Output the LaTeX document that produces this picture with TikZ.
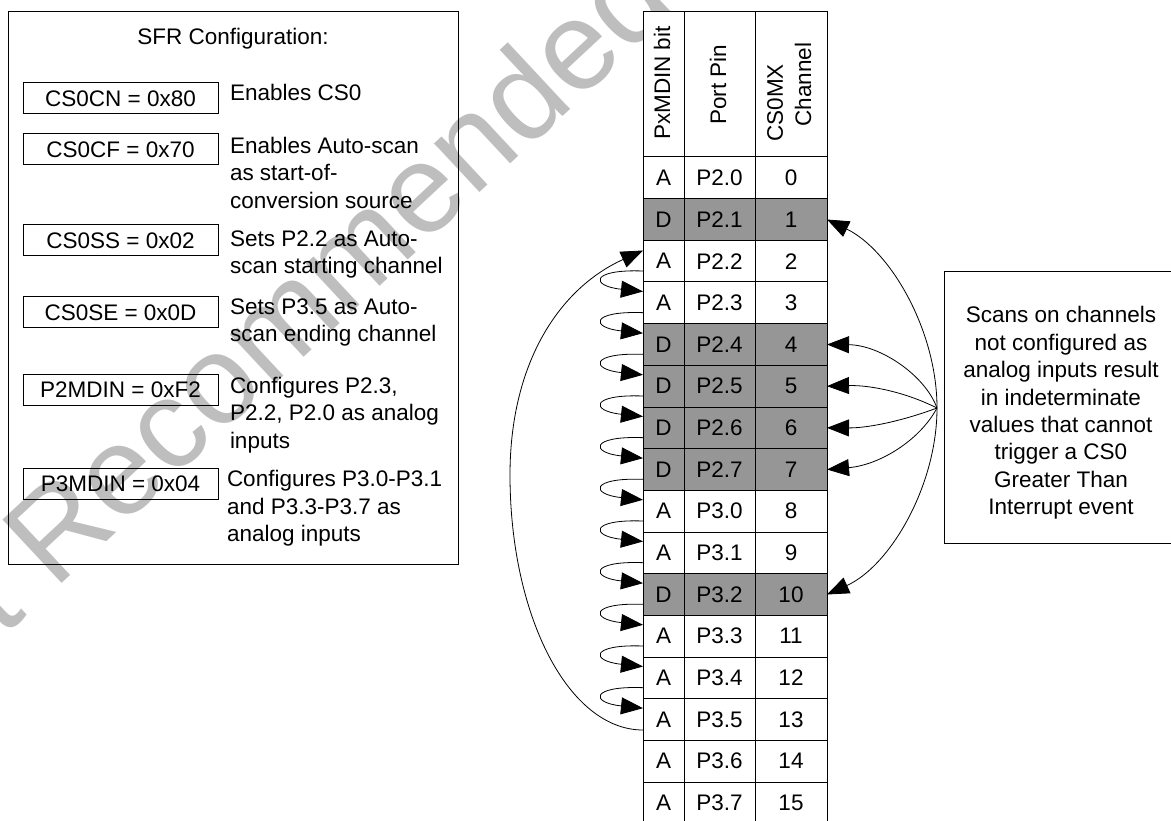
\documentclass[tikz,border=0pt]{standalone}
\usepackage{fontspec}
\setmainfont{Liberation Sans}
\usetikzlibrary{arrows.meta}
\definecolor{cellgray}{RGB}{150,150,150}
\definecolor{wmgray}{RGB}{190,190,190}
\begin{document}
\begin{tikzpicture}[x=1pt,y=-1pt,
  txt/.style={font=\fontsize{22.5}{27.5}\selectfont, inner sep=0pt, outer sep=0pt},
  box/.style={draw, line width=1pt, inner sep=0pt, outer sep=0pt},
  regbox/.style={box, minimum width=195pt, minimum height=31pt, font=\fontsize{22.5}{27.5}\selectfont},
  cell/.style={box, minimum height=41.667pt, font=\fontsize{22.5}{27.5}\selectfont},
  con/.style={line width=0.8pt, -{Triangle[length=22pt,width=17pt]}},
  ]
\useasboundingbox (0,0) rectangle (1171,821);
\clip (0,0) rectangle (1171,821);
% watermark
\node[font=\fontsize{126}{126}\selectfont, text=wmgray, rotate=43, anchor=base west, inner sep=0pt] (wm) at (-115,748) {Not Recommended};

% SFR configuration box
\node[box, minimum width=450pt, minimum height=552pt] (sfr) at (233,288) {};
\node[txt, anchor=base] (title) at (233,45) {SFR Configuration:};
\node[regbox] (r1) at (120.5,98.5) {CS0CN = 0x80};
\node[regbox] (r2) at (120.5,149.5) {CS0CF = 0x70};
\node[regbox] (r3) at (120.5,240.5) {CS0SS = 0x02};
\node[regbox] (r4) at (120.5,312.5) {CS0SE = 0x0D};
\node[regbox] (r5) at (120.5,390) {P2MDIN = 0xF2};
\node[regbox] (r6) at (120.5,483.5) {P3MDIN = 0x04};
\node[txt, anchor=north west, align=left] (d1) at (230,83.7) {Enables CS0};
\node[txt, anchor=north west, align=left] (d2) at (230,137) {Enables Auto-scan\\as start-of-\\conversion source};
\node[txt, anchor=north west, align=left] (d3) at (230,230.4) {Sets P2.2 as Auto-\\scan starting channel};
\node[txt, anchor=north west, align=left] (d4) at (230,298.7) {Sets P3.5 as Auto-\\scan ending channel};
\node[txt, anchor=north west, align=left] (d5) at (230,377) {Configures P2.3,\\P2.2, P2.0 as analog\\inputs};
\node[txt, anchor=north west, align=left] (d6) at (227,470.4) {Configures P3.0-P3.1\\and P3.3-P3.7 as\\analog inputs};

% table header
\node[cell, fill=white, minimum width=41pt, minimum height=145pt] (hc1) at (663.5,84.5) {};
\node[cell, fill=white, minimum width=71pt, minimum height=145pt] (hc2) at (719.5,84.5) {};
\node[cell, fill=white, minimum width=72pt, minimum height=145pt] (hc3) at (791,84.5) {};
\node[txt, rotate=90, anchor=west] (t1) at (662,140) {PxMDIN bit};
\node[txt, rotate=90, anchor=west] (t2) at (718,125) {Port Pin};
\node[txt, rotate=90, anchor=west] (t3) at (775,141.7) {CS0MX};
\node[txt, rotate=90, anchor=west] (t4) at (803,126.7) {Channel};

% table rows
\foreach \i/\b/\p/\f in {0/A/P2.0/white, 1/D/P2.1/cellgray, 2/A/P2.2/white, 3/A/P2.3/white,
  4/D/P2.4/cellgray, 5/D/P2.5/cellgray, 6/D/P2.6/cellgray, 7/D/P2.7/cellgray,
  8/A/P3.0/white, 9/A/P3.1/white, 10/D/P3.2/cellgray, 11/A/P3.3/white,
  12/A/P3.4/white, 13/A/P3.5/white, 14/A/P3.6/white, 15/A/P3.7/white}{
  \pgfmathsetmacro\yc{157+41.667*\i+20.833}
  \node[cell, fill=\f, minimum width=41pt] (a\i) at (663.5,\yc) {\b};
  \node[cell, fill=\f, minimum width=71pt] (p\i) at (719.5,\yc) {\p};
  \node[cell, fill=\f, minimum width=72pt] (n\i) at (791,\yc) {\i};
}

% scan sequence loops on the left
\foreach \k in {3,...,13}{
  \pgfmathsetmacro\ys{157+41.667*\k-11}
  \pgfmathsetmacro\yt{157+41.667*\k+9.5}
  \coordinate (ls\k) at (643,\ys);
  \coordinate (lt\k) at (643,\yt);
  \draw[con] (ls\k) .. controls (590,\ys-2) and (590,\ys+15) .. (lt\k);
}
\coordinate (bs) at (643,730);
\coordinate (be) at (643,250.5);
\coordinate (bm) at (510,475);
\draw[con] (bs) .. controls (568,730) and (510,615) .. (bm) .. controls (510,362) and (560,288) .. (be);

% right side
\coordinate (hub) at (937,408);
\draw[con] (hub) .. controls (937,330) and (890,250) .. (n1.east);
\draw[con] (hub) .. controls (925,375) and (880,345) .. (n4.east);
\draw[con] (hub) .. controls (905,392) and (870,385) .. (n5.east);
\draw[con] (hub) .. controls (905,420) and (870,428) .. (n6.east);
\draw[con] (hub) .. controls (920,440) and (880,465) .. (n7.east);
\draw[con] (hub) .. controls (937,486) and (890,566) .. (n10.east);

\node[box, minimum width=240pt, minimum height=271pt, anchor=north west] (note) at (944,272) {};
\node[txt, anchor=north, align=center, font=\fontsize{22.5}{27.4}\selectfont] (notetext) at (1061,306.6)
  {Scans on channels\\not configured as\\analog inputs result\\in indeterminate\\values that cannot\\trigger a CS0\\Greater Than\\Interrupt event};
\end{tikzpicture}
\end{document}
